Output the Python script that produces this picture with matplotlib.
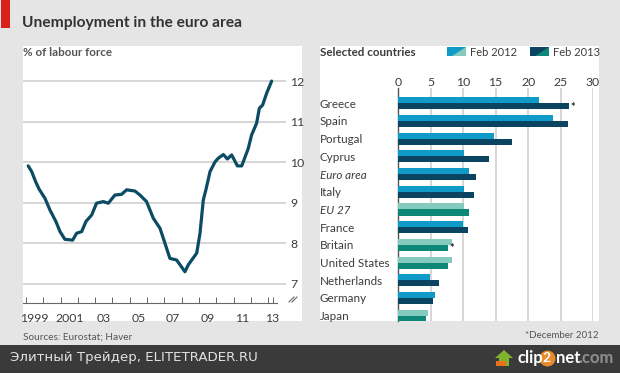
import numpy as np
import matplotlib
matplotlib.use("Agg")
import matplotlib.pyplot as plt
from matplotlib.patches import Rectangle, Polygon

# line chart
line_years = [1999.13, 1999.33, 1999.58, 1999.77, 2000.1, 2000.39, 2000.73, 2000.97, 2001.25, 2001.7,
              2001.93, 2002.22, 2002.47, 2002.8, 2003.08, 2003.47, 2003.76, 2004.14, 2004.53, 2004.82,
              2005.3, 2005.59, 2005.97, 2006.36, 2006.75, 2007.32, 2007.71, 2008.19, 2008.38, 2008.87,
              2009.06, 2009.25, 2009.4, 2009.64, 2009.93, 2010.12, 2010.41, 2010.64, 2010.89, 2011.22,
              2011.47, 2011.85, 2012.04, 2012.33, 2012.49, 2012.68, 2012.91, 2013.2]
line_rates = [9.91, 9.77, 9.5, 9.33, 9.11, 8.82, 8.54, 8.29, 8.1, 8.08,
              8.25, 8.29, 8.54, 8.7, 8.99, 9.03, 8.99, 9.19, 9.21, 9.32,
              9.29, 9.19, 9.03, 8.62, 8.37, 7.63, 7.59, 7.3, 7.47, 7.76,
              8.25, 9.07, 9.32, 9.77, 10.01, 10.1, 10.19, 10.08, 10.18, 9.91,
              9.91, 10.34, 10.67, 10.96, 11.33, 11.41, 11.7, 12.0]
line_yticks = [7, 8, 9, 10, 11, 12]
year_ticks = list(range(1999, 2014))
year_labels = ["1999", "2001", "03", "05", "07", "09", "11", "13"]
year_label_pos = [1999.5, 2001.5, 2003.5, 2005.5, 2007.5, 2009.5, 2011.5, 2013.2]

# bar chart
countries = ["Greece", "Spain", "Portugal", "Cyprus", "Euro area", "Italy", "EU 27", "France",
             "Britain", "United States", "Netherlands", "Germany", "Japan"]
feb_2012 = [21.7, 23.9, 14.8, 10.2, 10.9, 10.1, 10.2, 10.0, 8.2, 8.3, 4.9, 5.6, 4.5]
feb_2013 = [26.35, 26.2, 17.5, 14.0, 12.0, 11.6, 10.9, 10.8, 7.7, 7.7, 6.2, 5.4, 4.3]
# teal for the non euro zone aggregates
teal_rows = ["EU 27", "Britain", "United States", "Japan"]
italic_rows = ["Euro area", "EU 27"]
starred = ["Greece", "Britain"]

W, H = 620, 373
BLUE, DARK = "#0f9ac8", "#0a4460"
LTEAL, TEAL = "#84cabf", "#0d8878"
LINE = "#0b4b63"
GRID = "#cccccc"
TXT = "#3c3c3c"
FS = 8.4

plt.rcParams["font.family"] = ["Lato", "DejaVu Sans"]

fig = plt.figure(figsize=(W / 100, H / 100), dpi=100, facecolor="#e5e5e5")


def fx(x):
    return x / W


def fy(y):
    return 1 - y / H


def add_axes_px(left, top, right, bottom):
    return fig.add_axes([fx(left), fy(bottom), (right - left) / W, (bottom - top) / H])


def rect_px(x0, y0, x1, y1, color, z=0):
    fig.add_artist(Rectangle((fx(x0), fy(y1)), (x1 - x0) / W, (y1 - y0) / H, transform=fig.transFigure,
                             facecolor=color, edgecolor="none", zorder=z))


def poly_px(pts, color, z=1):
    fig.add_artist(Polygon([(fx(x), fy(y)) for x, y in pts], closed=True, transform=fig.transFigure,
                           facecolor=color, edgecolor="none", zorder=z))


def text_px(x, y, s, **kw):
    kw.setdefault("va", "center")
    kw.setdefault("color", TXT)
    fig.text(fx(x), fy(y), s, **kw)


# panels and header
rect_px(23, 46, 302, 321, "white")
rect_px(320, 46, 599, 321, "white")
rect_px(1, 0, 10, 28, "#d9201b")
text_px(22, 23, "Unemployment in the euro area", fontsize=11.2, fontweight="bold", color="#333333")
text_px(23, 52, "% of labour force", fontsize=FS, fontweight="bold", color="#555555")
text_px(320, 52, "Selected countries", fontsize=FS, fontweight="bold")

# legend swatches
rect_px(447, 47, 466, 56, BLUE, 1)
poly_px([(466, 47), (466, 56), (452, 56)], LTEAL, 2)
rect_px(530, 47, 549, 56, DARK, 1)
poly_px([(549, 47), (549, 56), (535, 56)], TEAL, 2)
text_px(470, 52, "Feb 2012", fontsize=8)
text_px(553, 52, "Feb 2013", fontsize=8)

# left chart
ax = add_axes_px(23, 60, 286, 303)
ax.set_facecolor("none")
ax.set_xlim(1998.83, 2014.03)
ax.set_ylim(6.53, 12.52)
ax.plot(line_years, line_rates, color=LINE, lw=2.3, solid_capstyle="round", solid_joinstyle="round", zorder=3)
ax.set_yticks(line_yticks)
ax.yaxis.tick_right()
ax.tick_params(axis="y", length=0, pad=3, labelsize=8.8, labelcolor=TXT)
ax.grid(axis="y", color=GRID, lw=1.1)
ax.set_xticks(year_ticks + [2013.3])
ax.set_xticklabels([])
ax.tick_params(axis="x", direction="in", length=4.5, width=0.7, color="#666666")
ax.set_xticks(year_label_pos, minor=True)
ax.set_xticklabels(year_labels, minor=True)
ax.tick_params(axis="x", which="minor", length=0, pad=7.5, labelsize=8.8, labelcolor=TXT)
for s in ax.spines.values():
    s.set_visible(False)
ax.spines["bottom"].set_visible(True)
ax.spines["bottom"].set_color("#666666")
ax.spines["bottom"].set_linewidth(0.8)
ax.spines["bottom"].set_bounds(1998.83, 2013.5)
text_px(23, 337, "Sources: Eurostat; Haver", fontsize=7.2, color="#555555")
# axis break mark
for dx in (0, 3):
    fig.add_artist(plt.Line2D([fx(289 + dx), fx(294 + dx)], [fy(302), fy(297)], color="#666666", lw=0.8))

# right chart
ax2 = add_axes_px(398.3, 88, 593, 321)
ax2.set_facecolor("none")
ax2.set_xlim(0, 30)
ax2.set_ylim(12.3, -0.864)
pos = np.arange(len(countries))
colors_12 = [LTEAL if c in teal_rows else BLUE for c in countries]
colors_13 = [TEAL if c in teal_rows else DARK for c in countries]
ax2.barh(pos - 0.17, feb_2012, height=0.34, color=colors_12, zorder=3)
ax2.barh(pos + 0.17, feb_2013, height=0.34, color=colors_13, zorder=3)
ax2.set_xticks(range(0, 31, 5))
ax2.xaxis.tick_top()
ax2.grid(axis="x", color=GRID, lw=1.1, zorder=1)
ax2.set_axisbelow(True)
ax2.tick_params(axis="x", length=0, pad=0, labelsize=8.8, labelcolor=TXT)
ax2.set_yticks(pos)
ax2.set_yticklabels(countries, ha="left")
ax2.tick_params(axis="y", length=0, pad=56.6, labelsize=FS, labelcolor=TXT)
for lab in ax2.get_yticklabels():
    if lab.get_text() in italic_rows:
        lab.set_fontstyle("italic")
for s in ax2.spines.values():
    s.set_visible(False)
ax2.spines["left"].set_visible(True)
ax2.spines["left"].set_color("#555555")
ax2.spines["left"].set_linewidth(1.0)
for c in starred:
    i = countries.index(c)
    ax2.text(feb_2013[i] + 0.2, i + 0.22, "*", fontsize=8, fontweight="bold", color="#222222", va="center", zorder=4)
text_px(599, 336, "*December 2012", fontsize=7, ha="right", color="#555555")

# footer bar
rect_px(0, 345, 620, 373, "#3a3a3a", 1)
text_px(10, 358, "Элитный Трейдер, ELITETRADER.RU", fontsize=9.6, color="#e2e2e2", family="DejaVu Sans", zorder=3)
poly_px([(504, 350), (513, 358), (509, 358), (509, 366), (499, 366), (499, 358), (495, 358)], "#7fb22e", 3)
rect_px(496, 361, 506, 366, "#e8701f", 4)
text_px(517, 358, "clip", fontsize=12, fontweight="bold", color="white", zorder=3)
fig.add_artist(plt.Line2D([fx(547)], [fy(358)], marker="o", ms=11.5, color="#e98a2b", mec="none", zorder=3))
text_px(547, 358, "2", fontsize=10, fontweight="bold", color="white", ha="center", zorder=4)
text_px(556, 358, "net", fontsize=12, fontweight="bold", color="white", zorder=3)
text_px(578, 358, ".com", fontsize=12, fontweight="bold", color="#8f8f8f", zorder=3)

fig.savefig("out.png", dpi=100, facecolor=fig.get_facecolor())
